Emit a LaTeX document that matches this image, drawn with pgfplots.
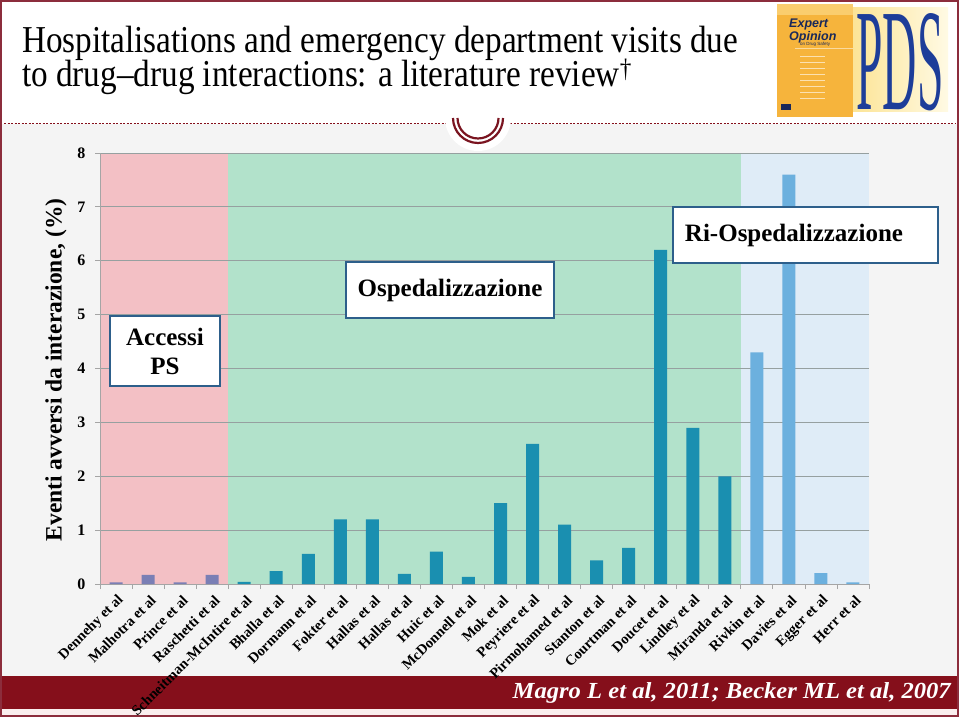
\documentclass[border=0pt]{standalone}
\usepackage{pgfplots}
\pgfplotsset{compat=1.18}
\usepackage{fontspec}
\setmainfont{Liberation Serif}
\newfontfamily\sansf{Liberation Sans}
\definecolor{bggray}{RGB}{244,244,244}
\definecolor{maroon}{RGB}{133,15,27}
\definecolor{framec}{RGB}{140,45,60}
\definecolor{palepink}{RGB}{250,238,238}
\definecolor{embl}{RGB}{122,20,32}
\definecolor{pinkband}{RGB}{243,192,197}
\definecolor{greenband}{RGB}{178,226,203}
\definecolor{blueband}{RGB}{223,236,247}
\definecolor{pinkbar}{RGB}{122,127,181}
\definecolor{tealbar}{RGB}{26,143,176}
\definecolor{bluebar}{RGB}{108,176,222}
\definecolor{axgray}{RGB}{165,165,165}
\definecolor{gridgray}{RGB}{150,160,160}
\definecolor{boxc}{RGB}{45,95,139}
\definecolor{coverorange}{RGB}{246,180,60}
\definecolor{coverlight}{RGB}{250,205,110}
\definecolor{navy}{RGB}{25,40,90}
\definecolor{pdsl}{RGB}{252,228,150}
\definecolor{pdsr}{RGB}{255,250,228}
\definecolor{pdsblue}{RGB}{29,61,153}
\pgfplotsset{
  slidebox/.style={at={(100pt,133pt)}, anchor=south west,
  scale only axis, width=769pt, height=431pt,
  xmin=-0.5, xmax=23.5, ymin=0, ymax=8}
}
\begin{document}
\begin{tikzpicture}[x=1pt,y=1pt]
\begin{scope}[shift={(0,717)}, yscale=-1]
\fill[white] (0,0) rectangle (960,717);
\fill[bggray] (2,124) rectangle (957,676);
\fill[maroon] (2,676) rectangle (957,709);
\fill[palepink] (2,709) rectangle (957,716);
\draw[framec, line width=1.5pt] (1,1) rectangle (958,716);
\draw[maroon, line width=1pt, dash pattern=on 2pt off 1.5pt] (4,124) -- (446,124);
\draw[maroon, line width=1pt, dash pattern=on 2pt off 1.5pt] (510,124) -- (955,124);
\fill[white] (478,118) circle[radius=33];
\draw[embl, line width=2.2pt] (453,118) arc[start angle=180, end angle=0, radius=25];
\draw[embl, line width=2.2pt] (457.5,118) arc[start angle=180, end angle=0, radius=20.5];
% title
\node[anchor=base west, inner sep=0, xscale=0.874, font=\fontsize{38}{38}\selectfont] at (22,53) {Hospitalisations and emergency department visits due};
\node[anchor=base west, inner sep=0, xscale=0.874, font=\fontsize{38}{38}\selectfont] at (22,87) {to drug–drug interactions: a literature review\textsuperscript{†}};
% journal covers
\fill[coverorange] (777,4) rectangle (853,117);
\fill[coverlight] (777,4) rectangle (853,15);
\node[anchor=north west, inner sep=0, font=\sansf\bfseries\itshape\fontsize{12.5}{11}\selectfont, text=navy, align=left] at (789,19) {Expert\\Opinion};
\node[anchor=north west, inner sep=0, font=\sansf\fontsize{4.5}{4.5}\selectfont, text=navy] at (800,42) {on Drug Safety};
\draw[white!50!coverorange, line width=0.5pt] (795,48) -- (853,48);
\foreach \yy in {56,62,...,98} \draw[white!60!coverorange, line width=0.6pt] (800,\yy) -- (825,\yy);
\fill[navy] (781,104) rectangle (791,110);
\shade[left color=pdsl, right color=pdsr] (853,8) rectangle (948,112);
\node[text=pdsblue, font=\fontsize{50}{50}\selectfont, inner sep=0, anchor=base] at (900,110) {\smash{\scalebox{0.95}[2.9]{PDS}}};
% y label
\node[rotate=90, font=\fontsize{23.5}{23.5}\selectfont\bfseries] at (56,370) {Eventi avversi da interazione, (\%)};
\end{scope}
% background bands
\begin{axis}[slidebox, hide axis]
\fill[pinkband] (axis cs:-0.5,0) rectangle (axis cs:3.5,8);
\fill[greenband] (axis cs:3.5,0) rectangle (axis cs:19.5,8);
\fill[blueband] (axis cs:19.5,0) rectangle (axis cs:23.5,8);
\end{axis}
% main axis
\begin{axis}[
  slidebox,
  axis x line*=bottom, axis y line*=left,
  axis line style={draw=axgray, line width=0.9pt},
  ymajorgrids, grid style={draw=gridgray, line width=0.8pt},
  ytick={0,...,8},
  xtick={-0.5,0.5,...,23.5}, xticklabels={},
  tick align=outside, major tick length=5pt,
  tick style={draw=axgray, line width=0.8pt},
  /pgf/number format/assume math mode=true,
  yticklabel style={font=\fontsize{16}{16}\selectfont\bfseries, xshift=-6pt},
  extra x ticks={0,...,23},
  extra x tick labels={Dennehy et al,Malhotra et al,Prince et al,Raschetti et al,Schneitman-McIntire et al,Bhalla et al,Dormann et al,Fokter et al,Hallas et al,Hallas et al,Huic et al,McDonnell et al,Mok et al,Peyriere et al,Pirmohamed et al,Stanton et al,Courtman et al,Doucet et al,Lindley et al,Miranda et al,Rivkin et al,Davies et al,Egger et al,Herr et al},
  extra x tick style={major tick length=0pt, tick style={draw=none}},
  xticklabel style={xshift=6pt, yshift=-13pt, rotate=45, anchor=east, inner sep=1pt, font=\fontsize{14.5}{14.5}\selectfont\bfseries},
]
\addplot[ybar, bar width=13pt, bar shift=0pt, fill=pinkbar, draw=none] coordinates {(0,0.03) (1,0.17) (2,0.03) (3,0.17)};
\addplot[ybar, bar width=13pt, bar shift=0pt, fill=tealbar, draw=none] coordinates {(4,0.04) (5,0.24) (6,0.56) (7,1.2) (8,1.2) (9,0.19) (10,0.6) (11,0.13) (12,1.5) (13,2.6) (14,1.1) (15,0.44) (16,0.67) (17,6.2) (18,2.9) (19,2.0)};
\addplot[ybar, bar width=13pt, bar shift=0pt, fill=bluebar, draw=none] coordinates {(20,4.3) (21,7.6) (22,0.2) (23,0.03)};
\end{axis}
\begin{scope}[shift={(0,717)}, yscale=-1]
% boxes
\draw[boxc, fill=white, line width=1.3pt] (110,316) rectangle (220,386);
\node[font=\fontsize{25}{29}\selectfont\bfseries, align=center] at (165,351) {Accessi\\PS};
\draw[boxc, fill=white, line width=1.3pt] (346,262) rectangle (554,318);
\node[font=\fontsize{25}{29}\selectfont\bfseries] at (450,290) {Ospedalizzazione};
\draw[boxc, fill=white, line width=1.3pt] (673,207) rectangle (938,263);
\node[font=\fontsize{25}{29}\selectfont\bfseries] at (794,235) {Ri-Ospedalizzazione};
% bottom reference
\node[anchor=base east, inner sep=0, xscale=1.07, text=white, font=\fontsize{23}{23}\selectfont\bfseries\itshape] at (951,698) {Magro L et al, 2011; Becker ML et al, 2007};
\end{scope}
\pgfresetboundingbox
\useasboundingbox (0,0) rectangle (960,717);
\end{tikzpicture}
\end{document}
